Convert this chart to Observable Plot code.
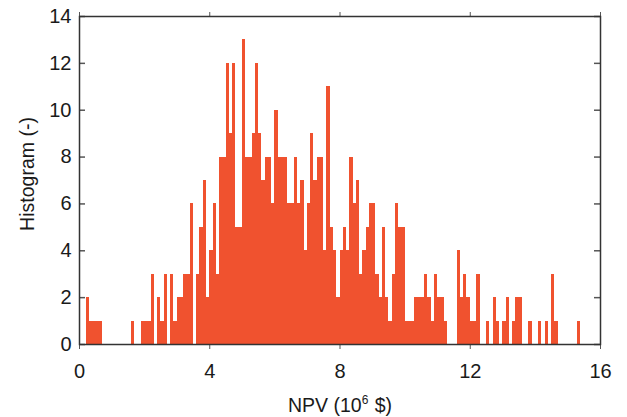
<!DOCTYPE html>
<html>
<head>
<meta charset="utf-8">
<script src="https://cdn.jsdelivr.net/npm/d3@7"></script>
<script src="https://cdn.jsdelivr.net/npm/@observablehq/plot@0.6"></script>
<style>
  html, body { margin: 0; padding: 0; background: #fff; }
  #chart svg { display: block; }
</style>
</head>
<body>
<div id="chart"></div>
<script>
// Histogram counts, one per bin of width 0.1 starting at 0.2 (NPV, 10^6 $)
const binStart = 0.2;
const binWidth = 0.1;
const counts = [
  2,1,1,1,1,0,0,0,                 // 0.2 - 0.9
  0,0,0,0,0,0,1,0,0,1,             // 1.0 - 1.9
  1,1,3,0,2,1,3,0,3,1,             // 2.0 - 2.9
  2,2,3,3,6,0,3,5,7,2,             // 3.0 - 3.9
  4,6,3,8,8,12,9,12,5,5,           // 4.0 - 4.9
  13,8,8,9,12,9,7,8,8,6,           // 5.0 - 5.9
  10,8,8,8,6,6,8,6,7,4,            // 6.0 - 6.9
  6,9,7,8,8,4,11,5,4,2,            // 7.0 - 7.9
  4,5,4,8,6,7,3,4,5,6,             // 8.0 - 8.9
  6,3,2,5,2,1,3,6,5,5,             // 9.0 - 9.9
  1,1,1,2,2,2,3,2,1,3,             // 10.0 - 10.9
  2,2,1,0,0,0,4,2,3,2,             // 11.0 - 11.9
  1,1,3,0,0,1,0,2,1,0,             // 12.0 - 12.9
  1,2,0,1,2,2,0,0,1,0,             // 13.0 - 13.9
  0,1,0,1,0,3,1,0,0,0,             // 14.0 - 14.9
  0,0,0,1                          // 15.0 - 15.3
];
const xTicks = [0, 4, 8, 12, 16];
const yTicks = [0, 2, 4, 6, 8, 10, 12, 14];
const xLabelParts = ["NPV (10", "6", " $)"];
const yLabel = "Histogram (-)";

const bins = counts.map((c, i) => ({
  x1: Math.round((binStart + i * binWidth) * 100) / 100,
  x2: Math.round((binStart + (i + 1) * binWidth) * 100) / 100,
  count: c
}));

const W = 627, H = 417;
const mL = 79, mR = 27, mT = 16, mB = 73;
const innerW = W - mL - mR;
const font = "'Liberation Sans', Arial, Helvetica, sans-serif";

const chart = Plot.plot({
  width: W,
  height: H,
  marginLeft: mL,
  marginRight: mR,
  marginTop: mT,
  marginBottom: mB,
  style: { fontFamily: font, fontSize: "20px", color: "#1a1a1a", background: "#fff" },
  x: { domain: [0, 16] },
  y: { domain: [0, 14] },
  marks: [
    Plot.rectY(bins, { x1: "x1", x2: "x2", y: "count", fill: "#f0522f", shapeRendering: "crispEdges" }),
    // x axis: outward ticks bottom & top
    Plot.axisX(xTicks, { anchor: "bottom", tickSize: 5, tickPadding: 14, stroke: "#555", fontSize: 20, label: null }),
    Plot.axisX(xTicks, { anchor: "top", tickSize: 5, tickFormat: () => "", stroke: "#555", label: null }),
    // y axis labels
    Plot.axisY(yTicks, { anchor: "left", tickSize: 0, tickPadding: 8, fontSize: 20, label: null }),
    // inward y ticks left & right
    Plot.ruleY(yTicks, { stroke: "#555", strokeWidth: 1.5, insetRight: innerW - 6 }),
    Plot.ruleY(yTicks, { stroke: "#555", strokeWidth: 1.5, insetLeft: innerW - 6 }),
    Plot.frame({ stroke: "#333", strokeWidth: 1.5 }),
    Plot.text([xLabelParts.join("")], { frameAnchor: "bottom", lineAnchor: "bottom", dy: 67, fontSize: 19.5, fill: "#1a1a1a", className: "xlabel" }),
    Plot.text([yLabel], { frameAnchor: "left", lineAnchor: "bottom", dx: -46, dy: -6.5, rotate: -90, textAnchor: "middle", fontSize: 19.5, fill: "#1a1a1a" })
  ]
});

// Render the exponent of the x label as a real superscript
d3.select(chart).selectAll("g.xlabel text").each(function () {
  const t = d3.select(this);
  t.text(null);
  t.append("tspan").text(xLabelParts[0]);
  t.append("tspan").attr("dy", -8).attr("font-size", 12).text(xLabelParts[1]);
  t.append("tspan").attr("dy", 8).attr("dx", 1).text(xLabelParts[2]);
});

document.getElementById("chart").appendChild(chart);
</script>
</body>
</html>
